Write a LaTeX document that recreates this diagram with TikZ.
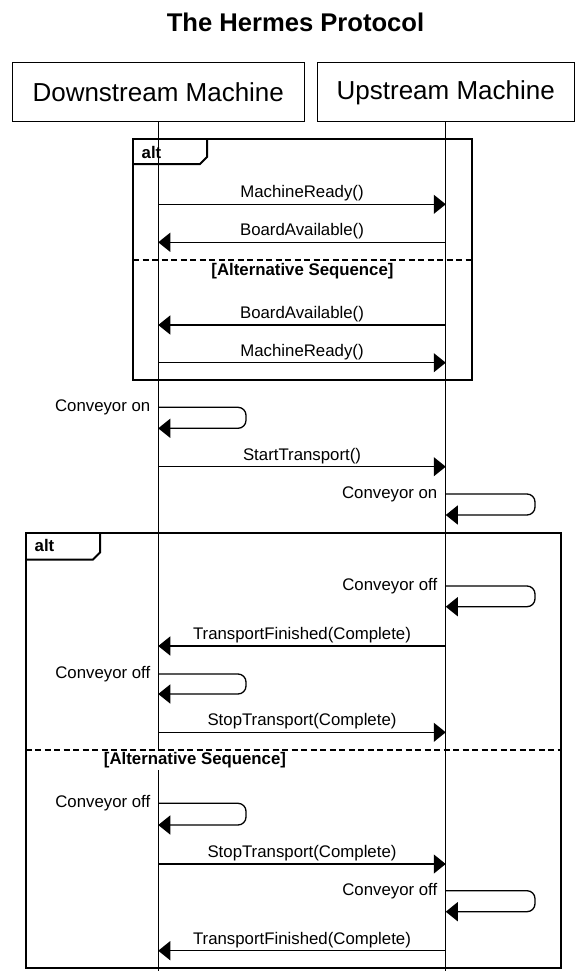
\documentclass[tikz,border=0pt]{standalone}
\usepackage{fontspec}
\setmainfont{Liberation Sans}
\usetikzlibrary{arrows.meta}
\begin{document}
\begin{tikzpicture}[x=1pt,y=-1pt,
  actor/.style={draw, line width=1pt, minimum width=#1, minimum height=59pt,
    inner sep=0pt, font=\fontsize{26}{30}\selectfont},
  lifeline/.style={line width=1pt},
  msg/.style={line width=1.3pt, -{Triangle[length=12pt,width=19pt]}},
  selfmsg/.style={msg, rounded corners=8pt},
  lbl/.style={font=\fontsize{16.8}{20}\selectfont, inner sep=0pt},
  framebox/.style={line width=2pt},
  altsep/.style={line width=2pt, dash pattern=on 6pt off 3.5pt},
  altname/.style={font=\bfseries\fontsize{16.8}{20}\selectfont, inner sep=0pt, anchor=west},
  guard/.style={font=\bfseries\fontsize{16.8}{20}\selectfont, fill=white,
    inner xsep=1pt, inner ysep=1.5pt},
]
\useasboundingbox (0,0) rectangle (576,971);

% title and participants
\node[font=\bfseries\fontsize{25.6}{30}\selectfont] (title) at (295.5,22.5) {The Hermes Protocol};
\node[actor=291.5pt] (ds) at (158.25,92.5) {Downstream Machine};
\node[actor=257.5pt] (us) at (445.75,92.5) {Upstream Machine};

% lifelines
\coordinate (dsend) at (ds.south |- 0,971);
\coordinate (usend) at (us.south |- 0,971);
\draw[lifeline] (ds.south) -- (dsend);
\draw[lifeline] (us.south) -- (usend);

% guards of the alternative operands
\node[guard] (g1) at (302.5,270.7) {[Alternative Sequence]};
\node[guard] (g2) at (195,760.5) {[Alternative Sequence]};

% ---------- first alt fragment ----------
\draw[framebox] (133,139) rectangle (472,379.5);
\draw[framebox] (133,164) -- (200,164) -- (207,157) -- (207,139);
\node[altname] (alt1) at (141.5,152.5) {alt};
\draw[altsep] (133,259.5) -- (472,259.5);

\draw[msg] (ds.south |- 0,204.3) -- node[lbl, yshift=11pt] {MachineReady()} (us.south |- 0,204.3);
\draw[msg] (us.south |- 0,242.3) -- node[lbl, yshift=11pt] {BoardAvailable()} (ds.south |- 0,242.3);
\draw[msg] (us.south |- 0,325) -- node[lbl, yshift=11pt] {BoardAvailable()} (ds.south |- 0,325);
\draw[msg] (ds.south |- 0,362.7) -- node[lbl, yshift=11pt] {MachineReady()} (us.south |- 0,362.7);

% ---------- conveyor start ----------
\node[lbl, anchor=east] (c1) at (150.5,407.3) {Conveyor on};
\draw[selfmsg] (ds.south |- 0,407.3) -- (246,407.3) -- (246,428.3) -- (ds.south |- 0,428.3);
\draw[msg] (ds.south |- 0,466.7) -- node[lbl, yshift=11pt] {StartTransport()} (us.south |- 0,466.7);
\node[lbl, anchor=east] (c2) at (437.5,494) {Conveyor on};
\draw[selfmsg] (us.south |- 0,494) -- (535,494) -- (535,515) -- (us.south |- 0,515);

% ---------- second alt fragment ----------
\draw[framebox] (25.5,533) rectangle (560.5,967.5);
\draw[framebox] (25.5,559.5) -- (93,559.5) -- (100,552.5) -- (100,533);
\node[altname] (alt2) at (34.5,545) {alt};
\draw[altsep] (25.5,750) -- (560.5,750);

\node[lbl, anchor=east] (c3) at (437.5,586) {Conveyor off};
\draw[selfmsg] (us.south |- 0,586) -- (535,586) -- (535,606.7) -- (us.south |- 0,606.7);
\draw[msg] (us.south |- 0,646) -- node[lbl, yshift=11pt] {TransportFinished(Complete)} (ds.south |- 0,646);
\node[lbl, anchor=east] (c4) at (150.5,674) {Conveyor off};
\draw[selfmsg] (ds.south |- 0,674) -- (246,674) -- (246,694) -- (ds.south |- 0,694);
\draw[msg] (ds.south |- 0,732.3) -- node[lbl, yshift=11pt] {StopTransport(Complete)} (us.south |- 0,732.3);

\node[lbl, anchor=east] (c5) at (150.5,803.3) {Conveyor off};
\draw[selfmsg] (ds.south |- 0,803.3) -- (246,803.3) -- (246,825) -- (ds.south |- 0,825);
\draw[msg] (ds.south |- 0,864) -- node[lbl, yshift=11pt] {StopTransport(Complete)} (us.south |- 0,864);
\node[lbl, anchor=east] (c6) at (437.5,890.7) {Conveyor off};
\draw[selfmsg] (us.south |- 0,890.7) -- (535,890.7) -- (535,911.7) -- (us.south |- 0,911.7);
\draw[msg] (us.south |- 0,950.7) -- node[lbl, yshift=11pt] {TransportFinished(Complete)} (ds.south |- 0,950.7);
\end{tikzpicture}
\end{document}
